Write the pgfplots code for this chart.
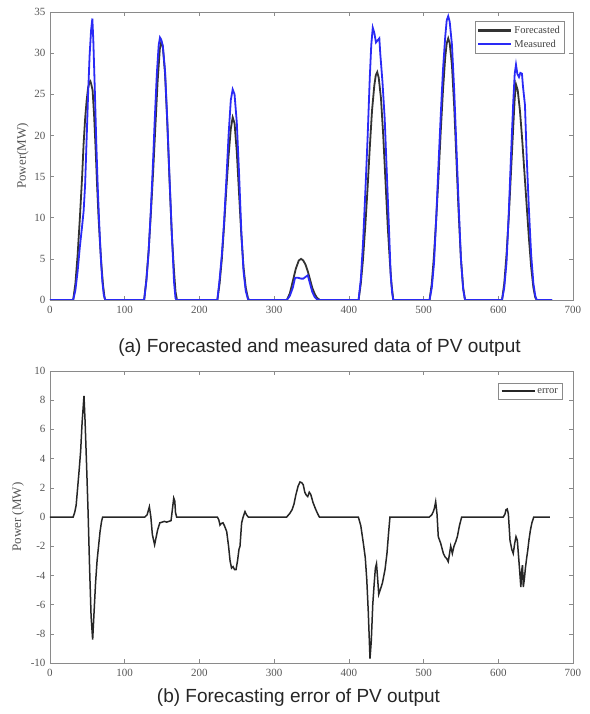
\documentclass[border=0pt]{standalone}
\usepackage{pgfplots}
\pgfplotsset{compat=1.18}
\usepackage{pgfplotstable}
\usepackage{fontspec}
\setmainfont{Liberation Serif}
\newfontfamily\capfont{Liberation Sans}
\definecolor{fcgray}{HTML}{333333}
\definecolor{msblue}{HTML}{2A2AF5}
\definecolor{axgray}{HTML}{8A8A8A}
\definecolor{txgray}{HTML}{555555}

\pgfplotstableread{
x y
0 0
31 0
34 2
37 5.5
40 10
43 15
45 19
47 22
49 24.2
51 25.8
53 26.5
54 26.6
55 26.3
57 25.5
59 22.5
61 18.5
63 14
65 10
67 6.8
69 4
71 1.8
73 0.3
74 0
126 0
129 2.5
132 6
135 10.5
138 15.5
141 21
144 26.5
147 30.5
149 31.4
151 30.8
154 27.5
157 21.5
160 14.5
163 8
166 3.5
168 1
170 0
224 0
227 2
230 5
233 9
236 13.5
239 17.5
242 20.8
244.5 22.2
247 21.5
250 18
253 13
256 8
259 4
262 1.5
265 0.2
266.5 0
317 0
321 0.8
325 2.3
329 3.8
333 4.8
336 5.0
339 4.8
342 4.3
345 3.5
348 2.5
351 1.5
354 0.8
357 0.3
361 0
413 0
416 2
419 5
422 9
425 13.5
428 18.5
431 23
434 26
436 27.3
438 27.7
440 27
443 24.5
446 20
449 14.5
452 9
455 4.5
457 2
459.5 0
508 0
511 2
514 5.5
517 10
520 15
523 20.5
526 25.5
529 29.5
531 31.2
533 31.8
535 31.2
538 28.5
541 23.5
544 17
547 10.5
550 5
553 1.5
555.5 0
605 0
608 2
611 5.5
614 10
617 15.5
620 21
622 24.5
623.7 26.2
626 25.5
629 23
632 19.5
635 15.5
638 11.5
641 7.5
644 4
647 1.5
649.5 0.3
651.5 0
672 0
}\forecast

\pgfplotstableread{
x y
0 0
31 0
34 1.2
37 3.5
40 6.5
43 9
45 10.8
47 14
49 19.5
51 25
53 29.7
55 32.8
56.7 34.2
58 31.5
60 25.5
62 19
64 13.5
66 9
68 5.2
70 2.3
72 0.6
74 0
126 0
129 2.3
132 5.8
135 11
138 17
140 21.5
143 27.5
145.5 31
147.2 31.9
149 31.6
151 30.9
154 27.8
157 21.8
160 14.8
163 8.2
166 2.2
168 0.2
169.5 0
224 0
227 2.5
230 5.5
233 9.5
236 14.5
239 20
242 24.3
244.5 25.6
247 25
250 21.6
253 15.5
256 8.5
259 3.5
262 1.1
265 0.1
266.5 0
317 0
321 0.5
325 1.5
328 2.7
332 2.7
336 2.6
339 2.6
342 2.8
345 3.0
348 2.0
351 1.0
354 0.4
357 0.1
361 0
413 0
416 2.5
419 7
422 13
425 19.5
428 27
430 31
432 33.1
434 32.5
436.3 31.3
438 31.5
440.8 31.8
442 30
445 26.5
448 22
451 15
454 8
456 3
458 0.8
459.5 0
508 0
511 1.5
514 4.5
517 10
520 16.5
523 22.5
526 28
529 32
531 34
533 34.5
535 33.8
538 31
541 25.5
544 18.5
547 11.5
550 5
553 1.3
555.5 0
605 0
608 1.5
611 4.5
614 10.5
617 17.5
620 24
622 27.5
623.7 28.6
625.5 27.5
627.7 27.1
629.5 27.6
631.7 27.5
633 26
635.7 23.7
638 17.5
641 11
644 5.5
647 2
649.5 0.5
651.5 0
672 0
}\measured

\pgfplotstableread{
x y
0 0
31 0
33 0.3
35 0.8
37 2
39 3.2
41 4.5
43 6.5
45.5 8.3
47 6.5
49 3.5
51 0.3
53 -3.5
55 -6.8
57.1 -8.4
59 -6.5
61 -4.5
63 -3
65 -2
67 -1
69 -0.3
70.5 0
127 0
130 0.15
133 0.7
135 0
137 -1.2
140 -1.9
142 -1.4
144 -0.9
147 -0.4
150 -0.35
153 -0.3
156 -0.35
159 -0.3
162 -0.25
164 0.6
165.6 1.3
167 1.1
168 0.3
169.5 0
224 0
226 -0.2
227.5 -0.55
229 -0.45
231.5 -0.4
233.5 -0.6
236.5 -1.0
239 -2.0
241 -3.0
243 -3.5
245 -3.4
247 -3.6
249 -3.6
251 -3.0
253 -2.2
254.3 -2.0
256.5 -0.4
258.5 0.0
261 0.37
263 0.15
265.4 0
316.8 0
321 0.25
324 0.5
326.6 0.9
329 1.5
332 2.1
334.6 2.4
337 2.35
339 2.2
341 1.7
343 1.5
345 1.4
347 1.7
349 1.55
352 1.0
355 0.6
358 0.25
360.5 0
412.7 0
416 -0.6
419.4 -1.8
422 -2.8
424 -4.3
426 -6.5
428.3 -9.7
430 -8.5
432 -6
434 -4.5
435.5 -3.5
437 -3.2
438.5 -4.2
440 -5.3
442.6 -4.9
445 -4.5
448.4 -3.6
451 -2.5
453 -1.2
455 0
507.7 0
511 0.15
513 0.37
514.5 0.6
516.2 1.05
518 0.2
519.7 -1.35
522.9 -1.8
526.5 -2.5
529 -2.75
531 -2.85
533 -3.06
534.5 -2.6
536.3 -2.0
538.5 -2.5
540.7 -2.0
543 -1.7
545.2 -1.35
548 -0.6
551 0
606.7 0
609 0.2
610.3 0.5
612 0.55
613.5 0.2
615.7 -1.6
618 -2.2
620 -2.5
622 -1.8
623.7 -1.35
625.5 -1.6
627 -2.6
628.5 -3.6
630.2 -4.8
631.5 -3.6
632.4 -3.3
633.5 -4.8
635 -4.2
636.3 -3.5
638 -2.8
639.4 -2.3
641 -1.6
643 -0.9
645 -0.4
647.5 0
669 0
}\errordata

\pgfplotsset{
  mystyle/.style={
    scale only axis,
    width=523pt,
    xmin=0, xmax=700,
    xtick={0,100,...,700},
    axis line style={axgray, line width=0.7pt},
    tick style={axgray, line width=0.6pt},
    major tick length=4pt,
    tick align=inside,
    ticklabel style={font=\fontsize{11}{13}\selectfont, text=txgray},
    xticklabel style={yshift=-3pt},
    yticklabel style={xshift=-1pt},
    /pgf/number format/assume math mode=true,
    scaled ticks=false,
    legend cell align=left,
    legend style={font=\fontsize{10.5}{12}\selectfont, draw=axgray,
      inner xsep=2pt, inner ysep=3pt, row sep=1pt, text=black!75},
  }
}

\begin{document}
\begin{tikzpicture}
\useasboundingbox (-50pt,-414pt) rectangle (539pt,300pt);
\begin{axis}[mystyle,
  at={(0pt,0pt)}, anchor=south west,
  height=288pt,
  ymin=0, ymax=35,
  ytick={0,5,...,35},
  ylabel={Power(MW)},
  ylabel style={at={(axis description cs:-0.052,0.5)}, anchor=center, font=\fontsize{13}{15}\selectfont, text=txgray},
  legend style={at={(0.983,0.969)}, anchor=north east},
  legend image code/.code={\draw[#1, line width=2.2pt] (0pt,0pt) -- (33pt,0pt);},
]
\addplot[fcgray, line width=1.8pt] table[x=x,y=y] {\forecast};
\addlegendentry{Forecasted}
\addplot[msblue, line width=1.8pt] table[x=x,y=y] {\measured};
\addlegendentry{Measured}
\end{axis}
\node[font=\capfont\fontsize{19}{22}\selectfont, text=black!85] at (269.5pt,-48pt) {(a) Forecasted and measured data of PV output};

\begin{axis}[mystyle,
  at={(0pt,-363pt)}, anchor=south west,
  height=292pt,
  ymin=-10, ymax=10,
  ytick={-10,-8,...,10},
  ylabel={Power (MW)},
  ylabel style={at={(axis description cs:-0.061,0.5)}, anchor=center, font=\fontsize{13}{15}\selectfont, text=txgray},
  legend style={at={(0.979,0.959)}, anchor=north east},
  legend image code/.code={\draw[#1, line width=1.8pt] (0pt,0pt) -- (33pt,0pt);},
]
\addplot[black!85, line width=1.5pt] table[x=x,y=y] {\errordata};
\addlegendentry{error}
\end{axis}
\node[font=\capfont\fontsize{19}{22}\selectfont, text=black!85] at (248.5pt,-398pt) {(b) Forecasting error of PV output};
\end{tikzpicture}
\end{document}
